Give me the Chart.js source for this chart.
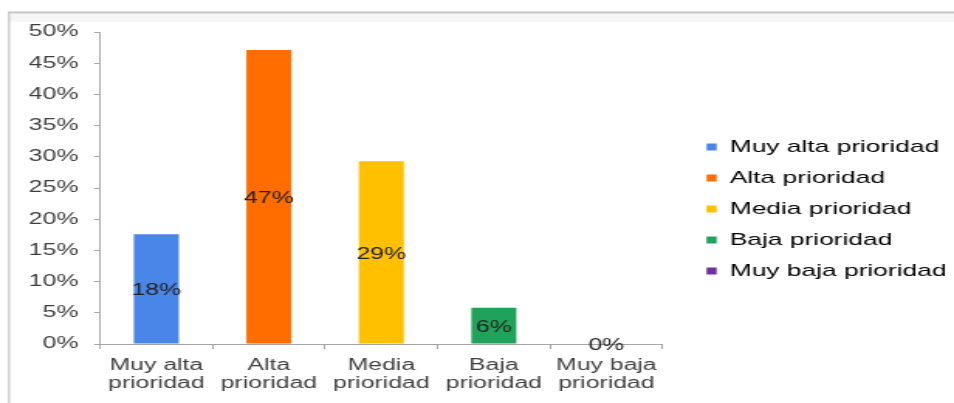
<!DOCTYPE html>
<html lang="es">
<head>
<meta charset="utf-8">
<title>Prioridad</title>
<script src="https://cdn.jsdelivr.net/npm/chart.js@4.4.1/dist/chart.umd.min.js"></script>
<style>
  html, body { margin: 0; padding: 0; background: #ffffff; overflow: hidden; }
  #wrap {
    position: absolute; left: 0; top: 0;
    width: 616px; height: 403px;
    transform: scaleX(1.5487); transform-origin: 0 0;
  }
</style>
</head>
<body>
<div id="wrap"><canvas id="chart" width="616" height="403"></canvas></div>
<script>
// Categories (legend names) and their two-line axis labels
const categories = ["Muy alta prioridad", "Alta prioridad", "Media prioridad", "Baja prioridad", "Muy baja prioridad"];
const tickLabels = [["Muy alta", "prioridad"], ["Alta", "prioridad"], ["Media", "prioridad"], ["Baja", "prioridad"], ["Muy baja", "prioridad"]];
// Share of responses per priority level, in percent
const values = [17.6, 47.1, 29.3, 5.8, 0];
const colors = ["#4a86e8", "#ff6d00", "#ffc000", "#1fa35a", "#7030a0"];
// Y axis tick range
const yMin = 0, yMax = 50, yStep = 5;

const FONT = "'Liberation Sans', Arial, sans-serif";
// Empty space trimmed from the right side of the legend box
const LEGEND_TRIM = 5.1;

// Thin grey frame along the top and left edges
const framePlugin = {
  id: 'frame',
  beforeDraw(chart) {
    const ctx = chart.ctx;
    ctx.save();
    ctx.fillStyle = '#f6f6f6';
    ctx.fillRect(5.2, 14, chart.width, 8);
    ctx.strokeStyle = '#c4c4c4';
    ctx.lineWidth = 2;
    ctx.beginPath();
    ctx.moveTo(5.2, 12.5);
    ctx.lineTo(chart.width, 12.5);
    ctx.stroke();
    ctx.lineWidth = 1.3;
    ctx.strokeStyle = '#c8c8c8';
    ctx.beginPath();
    ctx.moveTo(5.8, 12);
    ctx.lineTo(5.8, chart.height);
    ctx.stroke();
    ctx.restore();
  }
};

// Let the side legend take the full width of its longest entry
const wideLegend = {
  id: 'wideLegend',
  afterInit(chart) {
    const legend = chart.legend;
    if (!legend) return;
    const update = legend.update;
    legend.update = function (maxWidth, maxHeight, margins) {
      const r = update.call(this, Math.max(maxWidth, 400), maxHeight, margins);
      this.width -= LEGEND_TRIM;
      return r;
    };
  }
};

// Percentage label in the middle of each bar
const valueLabels = {
  id: 'valueLabels',
  afterDatasetsDraw(chart) {
    const ctx = chart.ctx;
    const meta = chart.getDatasetMeta(0);
    const data = chart.data.datasets[0].data;
    ctx.save();
    ctx.font = '16px ' + FONT;
    ctx.fillStyle = '#222222';
    ctx.textAlign = 'center';
    ctx.textBaseline = 'middle';
    meta.data.forEach((bar, i) => {
      const { x, y, base } = bar.getProps(['x', 'y', 'base'], true);
      ctx.fillText(Math.round(data[i]) + '%', x, (y + base) / 2 + 2);
    });
    ctx.restore();
  }
};

new Chart(document.getElementById('chart'), {
  type: 'bar',
  data: {
    labels: tickLabels,
    datasets: [{
      data: values,
      backgroundColor: colors,
      borderWidth: 0,
      categoryPercentage: 1,
      barPercentage: 0.4
    }]
  },
  options: {
    responsive: false,
    animation: false,
    events: [],
    layout: { padding: { left: 8.6, right: 0, top: 18, bottom: 3.2 } },
    plugins: {
      tooltip: { enabled: false },
      legend: {
        position: 'right',
        labels: {
          boxWidth: 6.5,
          boxHeight: 7,
          padding: 14,
          color: '#262626',
          font: { family: FONT, size: 17 },
          generateLabels: () => categories.map((name, i) => ({
            text: name,
            fillStyle: colors[i],
            strokeStyle: colors[i],
            lineWidth: 0,
            hidden: false,
            index: i
          }))
        }
      }
    },
    scales: {
      x: {
        grid: {
          offset: true,
          drawOnChartArea: false,
          drawTicks: true,
          tickLength: 5,
          color: '#a6a6a6'
        },
        border: { color: '#a6a6a6', width: 1 },
        ticks: {
          padding: 7,
          color: '#3f3f3f',
          font: { family: FONT, size: 16, lineHeight: 1.15 },
          maxRotation: 0,
          autoSkip: false
        }
      },
      y: {
        min: yMin,
        max: yMax,
        grid: {
          drawOnChartArea: false,
          drawTicks: true,
          tickLength: 4,
          color: '#a6a6a6'
        },
        border: { color: '#a6a6a6', width: 1 },
        ticks: {
          stepSize: yStep,
          padding: 10,
          color: '#3f3f3f',
          font: { family: FONT, size: 16 },
          callback: v => v + '%'
        }
      },
      topGap: {
        type: 'linear',
        position: 'top',
        grid: { display: false },
        border: { display: false },
        ticks: { display: false },
        afterFit: s => { s.height = 14; }
      },
      rightGap: {
        type: 'linear',
        position: 'right',
        grid: { display: false },
        border: { display: false },
        ticks: { display: false },
        afterFit: s => { s.width = 14.4; }
      }
    }
  },
  plugins: [framePlugin, wideLegend, valueLabels]
});
</script>
</body>
</html>
